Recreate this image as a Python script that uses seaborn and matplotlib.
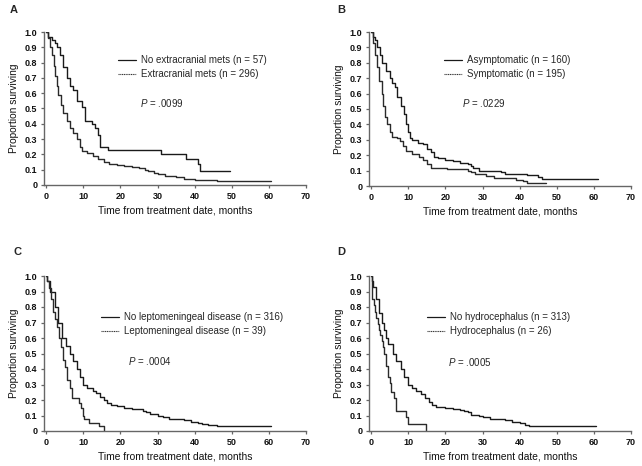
"""Kaplan-Meier survival curves, four panels (A-D)."""

import matplotlib
matplotlib.use("Agg")
import matplotlib.pyplot as plt
from matplotlib.lines import Line2D
import seaborn as sns

# step points: month, proportion surviving
a1_t = [0, 0.6, 1.5, 2.4, 2.9, 3.7, 4.6, 5.5, 6.4, 7.3, 8.2, 9.6, 10.5, 12.4, 13.1, 14.0, 14.6, 15.4, 16.7, 31.0, 37.7, 40.8, 41.5, 42.1, 49.4]
a1_s = [1.0, 0.97, 0.95, 0.93, 0.90, 0.85, 0.77, 0.70, 0.65, 0.62, 0.55, 0.51, 0.42, 0.40, 0.37, 0.33, 0.25, 0.25, 0.23, 0.20, 0.17, 0.14, 0.09, 0.09, 0.09]
a2_t = [0, 0.6, 1.1, 1.5, 2.0, 2.4, 2.9, 3.3, 4.0, 4.6, 5.5, 6.4, 7.3, 8.2, 9.1, 9.6, 11, 12.5, 14, 15.5, 17, 19, 21, 23, 25, 26.5, 27.5, 29, 30, 32, 35, 37, 40, 43, 46, 60.5]
a2_s = [1.0, 0.96, 0.90, 0.85, 0.78, 0.71, 0.65, 0.59, 0.52, 0.47, 0.42, 0.37, 0.34, 0.30, 0.25, 0.22, 0.21, 0.19, 0.17, 0.15, 0.14, 0.13, 0.125, 0.12, 0.11, 0.10, 0.09, 0.08, 0.07, 0.06, 0.05, 0.04, 0.035, 0.03, 0.025, 0.025]

b1_t = [0, 0.5, 1, 1.5, 2.3, 3, 4, 5, 5.5, 6.3, 7, 8, 8.7, 9.5, 10, 10.5, 11, 12.5, 14, 15, 16, 17, 18, 20, 22, 24, 26, 27, 27.5, 29, 35, 36, 38, 42, 45, 46, 61]
b1_s = [1.0, 0.97, 0.95, 0.90, 0.85, 0.80, 0.75, 0.70, 0.67, 0.64, 0.58, 0.52, 0.47, 0.40, 0.35, 0.31, 0.30, 0.28, 0.27, 0.24, 0.22, 0.19, 0.18, 0.17, 0.16, 0.15, 0.14, 0.13, 0.12, 0.10, 0.09, 0.08, 0.075, 0.07, 0.06, 0.045, 0.045]
b2_t = [0, 0.5, 1, 1.5, 2.2, 2.8, 3.3, 3.8, 4.3, 5, 5.5, 7, 7.7, 8.5, 9.5, 11, 13, 14, 15, 16, 20.5, 26, 27, 28, 30, 31, 33, 36, 39, 41, 42, 47]
b2_s = [1.0, 0.93, 0.85, 0.77, 0.68, 0.60, 0.52, 0.45, 0.40, 0.35, 0.32, 0.31, 0.29, 0.26, 0.23, 0.21, 0.19, 0.17, 0.14, 0.12, 0.11, 0.10, 0.09, 0.08, 0.075, 0.065, 0.055, 0.05, 0.04, 0.03, 0.02, 0.02]

c1_t = [0, 0.3, 1, 2.3, 3.3, 4.3, 5.3, 6.3, 7.2, 8.3, 9, 10, 11, 12.5, 13.5, 14.5, 15.5, 16.5, 17.5, 19, 21, 23, 25, 26, 27, 28, 30, 31.5, 33, 35, 37, 39, 41, 42, 43.5, 46, 60.5]
c1_s = [1.0, 0.97, 0.90, 0.80, 0.70, 0.60, 0.55, 0.50, 0.45, 0.40, 0.35, 0.30, 0.28, 0.26, 0.245, 0.22, 0.20, 0.18, 0.165, 0.16, 0.15, 0.145, 0.14, 0.13, 0.12, 0.11, 0.10, 0.09, 0.08, 0.075, 0.07, 0.06, 0.05, 0.045, 0.04, 0.03, 0.03]
c2_t = [0, 0.3, 0.8, 1.2, 1.7, 2.3, 2.8, 3.4, 3.9, 4.5, 5.0, 5.6, 6.3, 7.0, 8.8, 9.3, 9.8, 10.2, 11.5, 14.2, 15.6]
c2_s = [1.0, 0.97, 0.92, 0.85, 0.77, 0.72, 0.67, 0.60, 0.54, 0.46, 0.41, 0.33, 0.28, 0.21, 0.18, 0.15, 0.10, 0.08, 0.05, 0.03, 0.0]

d1_t = [0, 0.3, 0.6, 1.2, 2, 2.8, 3.4, 4, 4.6, 5.8, 6.8, 8, 8.8, 9.8, 11, 12, 13.5, 14.5, 15.5, 16.5, 17.5, 20, 22, 24, 25, 26, 27, 29, 30, 32, 34, 36, 38, 40, 41.5, 42.5, 60.5]
d1_s = [1.0, 0.97, 0.93, 0.85, 0.76, 0.70, 0.65, 0.60, 0.56, 0.50, 0.45, 0.40, 0.35, 0.30, 0.28, 0.26, 0.24, 0.21, 0.19, 0.165, 0.155, 0.15, 0.14, 0.135, 0.13, 0.12, 0.105, 0.10, 0.09, 0.08, 0.075, 0.07, 0.06, 0.05, 0.04, 0.03, 0.03]
d2_t = [0, 0.2, 0.8, 1.0, 1.3, 1.7, 2.0, 2.3, 2.8, 3.2, 3.5, 4.0, 4.5, 5.0, 5.4, 6.2, 6.6, 9.3, 10.0, 14.7]
d2_s = [1.0, 0.85, 0.81, 0.77, 0.73, 0.69, 0.65, 0.62, 0.58, 0.54, 0.50, 0.42, 0.35, 0.31, 0.25, 0.21, 0.13, 0.09, 0.045, 0.0]

panels = [
    ("A", a1_t, a1_s, a2_t, a2_s, "No extracranial mets (n = 57)", "Extracranial mets (n = 296)", ".0099"),
    ("B", b1_t, b1_s, b2_t, b2_s, "Asymptomatic (n = 160)", "Symptomatic (n = 195)", ".0229"),
    ("C", c1_t, c1_s, c2_t, c2_s, "No leptomeningeal disease (n = 316)", "Leptomeningeal disease (n = 39)", ".0004"),
    ("D", d1_t, d1_s, d2_t, d2_s, "No hydrocephalus (n = 313)", "Hydrocephalus (n = 26)", ".0005"),
]

x_ticks = [0, 10, 20, 30, 40, 50, 60, 70]
y_ticks = [0, 0.1, 0.2, 0.3, 0.4, 0.5, 0.6, 0.7, 0.8, 0.9, 1.0]
y_labels = ["0", "0.1", "0.2", "0.3", "0.4", "0.5", "0.6", "0.7", "0.8", "0.9", "1.0"]

sns.set_theme(style="ticks")
plt.rcParams["font.family"] = ["Liberation Sans", "DejaVu Sans"]
plt.rcParams["mathtext.fontset"] = "custom"
plt.rcParams["mathtext.it"] = "Liberation Sans:italic"
plt.rcParams["mathtext.rm"] = "Liberation Sans"

W, H = 642, 466
fig = plt.figure(figsize=(W / 100, H / 100), dpi=100)

# axes boxes in pixels: left, top, right, bottom
boxes = [(44, 32, 306, 185), (369, 32, 631, 186), (44, 276, 306, 431), (369, 276, 631, 431)]
# legend anchor (px) and p-value position (px)
leg_pos = [(118, 55), (444, 55), (101, 312), (427, 312)]
p_pos = [(140, 103), (462, 103), (128, 361), (448, 362)]
letter_pos = [(10, 10), (337, 10), (13, 252), (337, 252)]

fs = 7
line_dark = "#1a1a1a"
axis_grey = "#666666"
for (letter, t1, s1, t2, s2, lab1, lab2, pval), box, lp, pp, lt in zip(panels, boxes, leg_pos, p_pos, letter_pos):
    l, t, r, b = box
    ax = fig.add_axes([l / W, 1 - b / H, (r - l) / W, (b - t) / H])
    sns.lineplot(x=t1, y=s1, drawstyle="steps-post", color=line_dark, lw=1.0,
                 estimator=None, sort=False, ax=ax)
    sns.lineplot(x=t2, y=s2, drawstyle="steps-post", color="#2a2a2a", lw=1.0,
                 estimator=None, sort=False, ax=ax)
    ax.set_xlim(-0.6, 70)
    ax.set_ylim(0, 1.0)
    ax.set_xticks(x_ticks)
    ax.set_yticks(y_ticks)
    ax.set_yticklabels(y_labels)
    ax.tick_params(labelsize=6.5, length=2.5, width=0.9,
                   color=axis_grey, labelcolor="#111111")
    ax.tick_params(axis="x", pad=2.6)
    ax.tick_params(axis="y", pad=2.2)
    for lab in ax.get_xticklabels() + ax.get_yticklabels():
        lab.set_fontweight("bold")
    for side in ["left", "bottom"]:
        ax.spines[side].set_linewidth(1.0)
        ax.spines[side].set_color(axis_grey)
    ax.spines["top"].set_visible(False)
    ax.spines["right"].set_visible(False)
    ax.set_xlabel("Time from treatment date, months", fontsize=7.4, labelpad=3,
                  color="#111111")
    ax.set_ylabel("Proportion surviving", fontsize=7.3, labelpad=4,
                  color="#111111")

    handles = [Line2D([], [], color=line_dark, lw=0.9),
               Line2D([], [], color="#333333", lw=0.8, ls=(0, (1, 0.6)))]
    ax.legend(handles, [lab1, lab2], loc="upper left", frameon=False,
              bbox_to_anchor=((lp[0] - l) / (r - l), (b - lp[1]) / (b - t)),
              fontsize=fs, handlelength=1.8, handletextpad=0.6,
              labelspacing=0.45, borderpad=0, borderaxespad=0)
    ax.text((pp[0] - l) / (r - l), (b - pp[1]) / (b - t), "$P$ = " + pval,
            transform=ax.transAxes, fontsize=fs, va="center", ha="left")
    fig.text(lt[0] / W, 1 - lt[1] / H, letter, fontsize=8, fontweight="bold",
             va="center", ha="left")

fig.savefig("out.png", dpi=100)
plt.close(fig)
